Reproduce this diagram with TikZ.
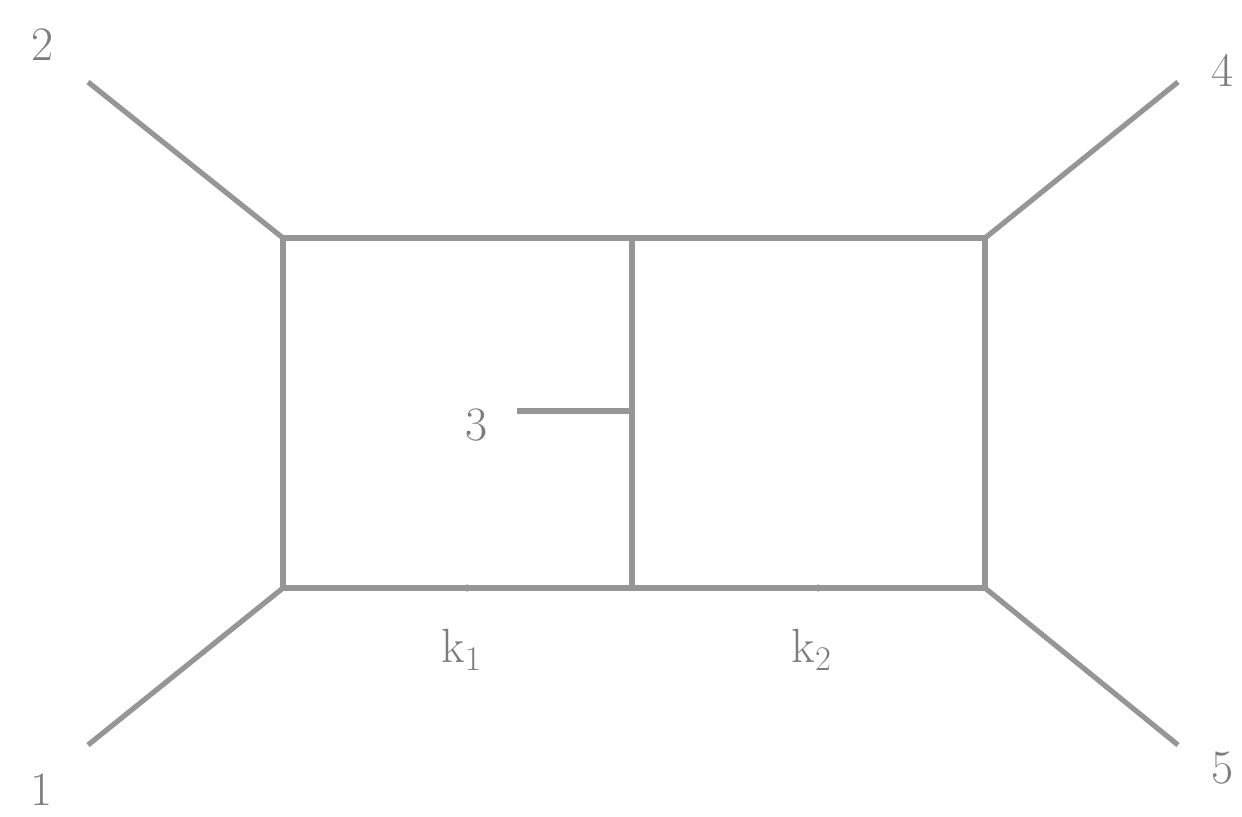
\documentclass[tikz,border=0pt]{standalone}
\usetikzlibrary{arrows.meta,decorations.markings}
\definecolor{lg}{RGB}{150,150,150}
\definecolor{lt}{RGB}{125,125,125}
\tikzset{
  edge/.style={draw=lg,line width=2.6pt},
  lbl/.style={text=lt,font=\fontsize{24}{28}\selectfont,inner sep=0pt},
  flow/.style={edge,postaction={decorate},decoration={markings,mark=at position 0.5 with {\arrow[lg]{Latex[length=5pt,width=4pt]}}}}
}
\begin{document}
\begin{tikzpicture}[x=0.5pt,y=-0.5pt]
\useasboundingbox (0,0) rectangle (1242,816);
\coordinate (tl) at (283,238);
\coordinate (tm) at (632,238);
\coordinate (tr) at (985,238);
\coordinate (bl) at (283,588);
\coordinate (bm) at (632,588);
\coordinate (br) at (985,588);
\coordinate (mm) at (632,411);
\coordinate (e2) at (88,82);
\coordinate (e4) at (1178,82);
\coordinate (e1) at (88,745);
\coordinate (e5) at (1178,745);
\coordinate (e3) at (517,411);
\node[lbl] (l2) at (43,45) {2};
\node[lbl] (l4) at (1222,70) {4};
\node[lbl] (l1) at (42,790) {1};
\node[lbl] (l5) at (1222,768) {5};
\node[lbl] (l3) at (477,425) {3};
\node[lbl] (k1) at (462,650) {k$_1$};
\node[lbl] (k2) at (812,650) {k$_2$};
\draw[edge] (tl) -- (tm) -- (tr) -- (br);
\draw[edge] (tl) -- (bl);
\draw[edge] (tm) -- (bm);
\draw[flow] (bm) -- (bl);
\draw[flow] (br) -- (bm);
\draw[edge] (e3) -- (mm);
\draw[edge] (e2) -- (tl);
\draw[edge] (e4) -- (tr);
\draw[edge] (e1) -- (bl);
\draw[edge] (e5) -- (br);
\end{tikzpicture}
\end{document}
